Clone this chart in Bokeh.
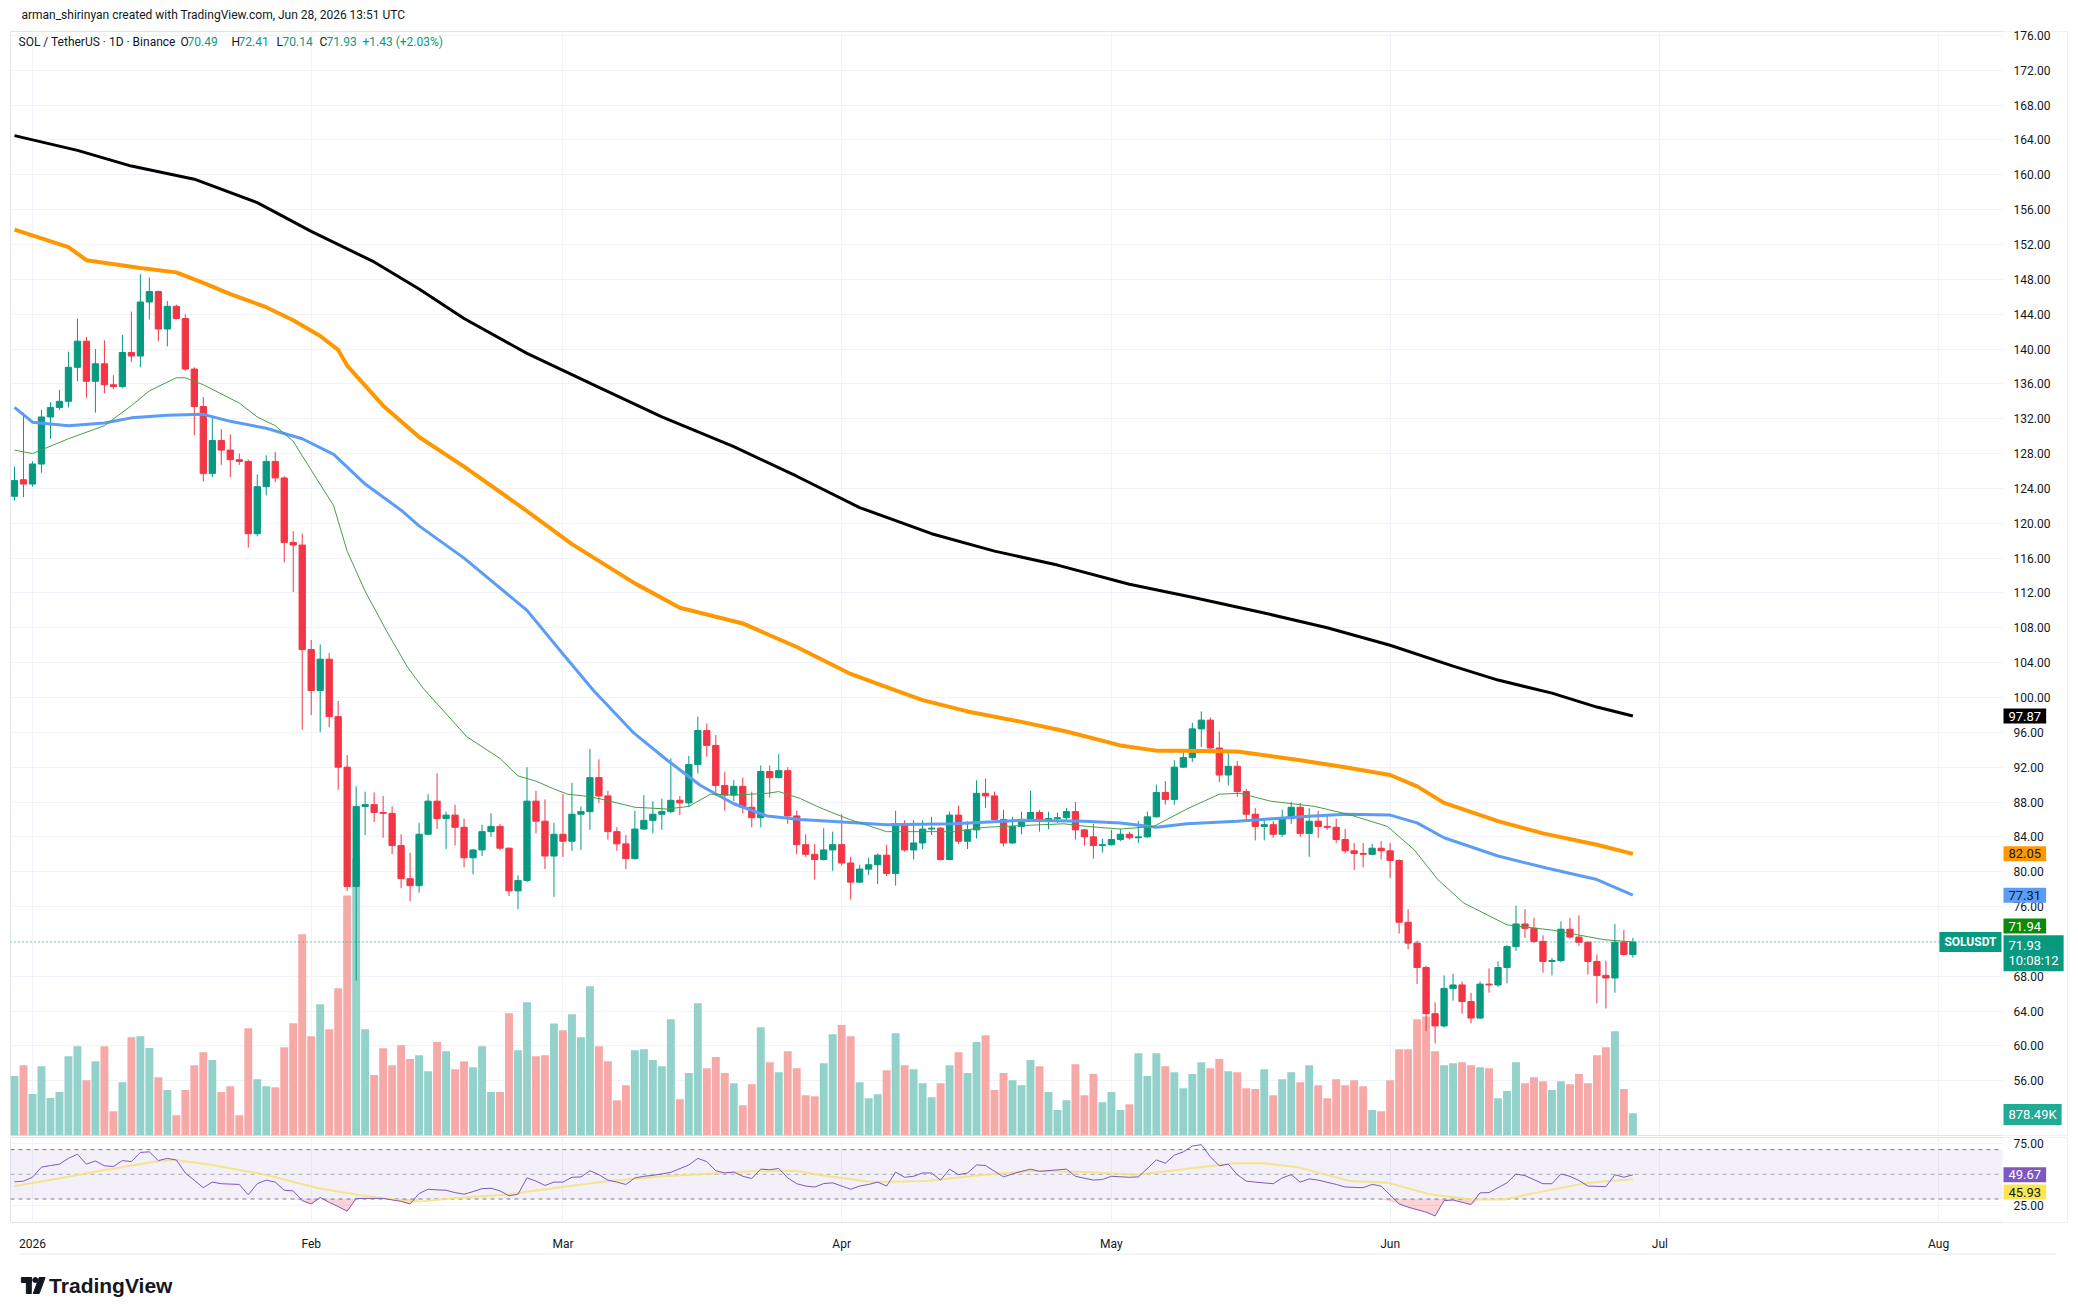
import numpy as np
import pandas as pd
from bokeh.plotting import figure
from bokeh.layouts import column
from bokeh.models import ColumnDataSource, Range1d, FixedTicker, Label
from bokeh.embed import file_html
from bokeh.resources import INLINE

FONT = "Roboto"
TXT = "#131722"
UP, DOWN = "#089981", "#f23645"
UPV, DOWNV = "#92d2ca", "#f7a9a7"
GRID = "#f0f3fa"
BORDER = "#e0e3eb"

# ---------------- data (daily SOL/USDT, 2025-12-30 .. 2026-06-28) ----------------
start_date = "2025-12-30"
opens = [123.1,125.0,124.5,126.8,132.2,133.3,134.0,137.9,140.9,136.3,
         138.3,135.9,135.7,139.6,139.2,145.4,146.6,142.3,144.9,143.5,
         137.7,133.4,125.7,129.5,128.4,127.3,127.1,118.8,124.2,127.1,
         125.2,117.8,117.5,105.5,100.8,104.4,97.8,92.0,78.3,87.5,
         87.7,86.8,86.7,83.0,79.2,78.4,84.3,88.1,86.1,86.5,
         85.1,81.6,82.5,84.6,85.2,82.7,77.8,79.0,88.1,85.8,
         81.8,84.3,83.5,86.6,86.9,90.8,88.7,84.6,83.2,81.5,
         84.9,85.9,86.6,86.9,88.2,87.9,92.3,96.2,94.5,89.9,
         88.8,89.8,87.4,86.2,91.5,90.8,91.6,86.4,83.1,82.0,
         81.4,82.5,83.1,81.0,78.8,80.3,80.8,81.9,79.8,85.5,
         82.5,83.3,84.9,85.0,81.4,86.5,83.5,84.8,89.0,88.7,
         86.0,83.3,85.2,86.0,86.8,86.0,86.1,86.2,86.9,84.8,
         84.0,83.0,83.1,83.7,84.3,83.9,84.0,86.3,89.1,88.3,
         92.0,93.1,96.4,97.4,94.2,91.1,92.1,89.2,86.6,85.2,
         85.4,84.3,86.1,87.4,84.4,85.8,85.2,85.1,83.7,82.4,
         82.1,82.0,82.7,82.4,81.3,74.2,71.8,69.0,63.7,62.3,
         66.6,67.0,65.1,63.2,67.1,67.0,69.0,71.4,74.0,73.5,
         72.0,69.7,69.8,73.4,72.5,71.9,69.7,68.1,67.8,71.9,
         70.49]
highs = [126.5,132.7,127.1,133.0,133.9,135.3,139.7,143.5,141.4,140.0,
         141.0,137.0,141.6,144.3,148.6,148.2,146.7,145.5,145.1,144.0,
         137.9,134.5,132.2,130.8,130.2,128.0,127.3,125.6,127.8,128.2,
         125.4,119.1,118.8,106.6,106.1,105.1,99.6,93.4,89.8,89.2,
         89.1,88.7,87.5,84.3,82.2,85.6,88.9,91.3,86.9,87.7,
         86.1,82.6,85.4,86.7,85.5,82.8,79.6,92.0,89.3,88.3,
         85.6,88.9,90.2,87.5,94.1,92.9,89.3,85.1,84.2,87.0,
         88.8,88.1,88.4,93.0,88.7,93.3,97.8,97.0,95.7,91.5,
         90.5,90.8,89.2,92.2,92.2,93.5,92.0,87.0,84.3,83.2,
         85.0,84.6,86.6,81.7,80.8,81.6,82.1,83.1,87.0,85.9,
         85.9,85.9,86.3,85.1,86.9,87.6,85.8,90.5,90.7,89.2,
         87.1,86.3,86.9,89.3,87.1,86.9,86.8,87.3,88.0,84.9,
         85.5,83.8,84.8,84.9,84.6,85.8,86.9,90.0,90.4,92.8,
         93.9,97.1,98.4,97.7,96.1,93.8,92.7,89.5,87.3,86.0,
         85.8,87.1,88.0,87.9,87.3,87.0,86.5,86.1,84.9,83.3,
         83.3,83.2,83.5,83.3,81.4,75.7,72.1,69.2,65.0,68.1,
         68.3,67.4,66.1,67.4,68.9,69.7,71.6,76.1,75.7,74.7,
         72.7,70.1,74.3,74.7,75.0,72.0,70.5,69.8,74.0,73.3,
         72.41]
lows = [122.6,123.0,124.2,125.8,129.7,133.0,133.3,136.3,134.4,132.7,
        134.9,135.4,135.5,138.5,137.9,143.4,140.9,140.3,143.4,137.5,
        130.1,124.8,125.3,126.7,125.3,126.7,117.2,118.5,123.2,124.7,
        115.5,112.1,96.3,98.0,96.0,96.6,89.4,77.8,67.5,84.2,
        85.7,83.9,82.0,78.1,76.6,77.6,84.2,84.9,82.6,83.0,
        80.5,79.7,81.8,84.0,82.5,77.2,75.7,78.8,84.4,80.3,
        77.1,81.7,82.4,82.5,84.8,87.9,83.7,82.4,80.3,81.4,
        84.8,84.4,84.8,86.7,86.5,87.4,91.3,93.2,88.7,87.0,
        88.1,86.7,85.1,85.1,88.5,90.7,85.5,82.0,81.7,79.1,
        81.3,80.1,80.7,76.8,78.7,79.6,78.6,79.5,78.4,82.3,
        81.4,82.6,84.2,81.3,81.3,83.2,82.6,83.8,87.3,85.9,
        82.9,83.2,84.3,85.9,84.6,84.9,85.6,85.9,83.7,83.0,
        81.5,82.2,83.0,83.5,83.7,83.3,83.9,86.2,87.7,87.7,
        91.9,92.6,94.3,93.6,90.3,89.9,88.6,85.8,83.6,83.6,
        83.9,84.0,85.5,84.0,81.7,83.9,84.8,83.3,82.1,80.2,
        80.5,81.9,81.4,79.3,72.9,71.1,67.1,61.7,60.3,62.1,
        65.2,63.7,62.6,63.1,66.1,66.8,67.2,70.9,72.4,71.8,
        68.4,68.1,69.6,72.3,71.5,68.2,64.9,64.3,66.1,70.4,
        70.14]
closes = [124.9,124.5,126.8,132.2,133.3,134.0,137.9,140.9,136.3,138.3,
          135.9,135.7,139.6,139.2,145.4,146.6,142.3,144.9,143.5,137.7,
          133.4,125.7,129.5,128.4,127.3,127.1,118.8,124.2,127.1,125.2,
          117.8,117.5,105.5,100.8,104.4,97.8,92.0,78.3,87.5,87.7,
          86.8,86.7,83.0,79.2,78.4,84.3,88.1,86.1,86.5,85.1,
          81.6,82.5,84.6,85.2,82.7,77.8,79.0,88.1,85.8,81.8,
          84.3,83.5,86.6,86.9,90.8,88.7,84.6,83.2,81.5,84.9,
          85.9,86.6,86.9,88.2,87.9,92.3,96.2,94.5,89.9,88.8,
          89.8,87.4,86.2,91.5,90.8,91.6,86.4,83.1,82.0,81.4,
          82.5,83.1,81.0,78.8,80.3,80.8,81.9,79.8,85.5,82.5,
          83.3,84.9,85.0,81.4,86.5,83.5,84.8,89.0,88.7,86.0,
          83.3,85.2,86.0,86.8,86.0,86.1,86.2,86.9,84.8,84.0,
          83.0,83.1,83.7,84.3,83.9,84.0,86.3,89.1,88.3,92.0,
          93.1,96.4,97.4,94.2,91.1,92.1,89.2,86.6,85.2,85.4,
          84.3,86.1,87.4,84.4,85.8,85.2,85.1,83.7,82.4,82.1,
          82.0,82.7,82.4,81.3,74.2,71.8,69.0,63.7,62.3,66.6,
          67.0,65.1,63.2,67.1,67.0,69.0,71.4,74.0,73.5,72.0,
          69.7,69.8,73.4,72.5,71.9,69.7,68.1,67.8,71.9,70.5,
          71.93]
volumes_m = [2.34,2.77,1.64,2.73,1.48,1.71,3.12,3.52,2.18,2.93,
             3.52,0.96,2.10,3.87,3.91,3.45,2.30,1.79,0.80,1.79,
             2.77,3.28,2.97,1.71,1.94,0.80,4.23,2.22,1.94,1.90,
             3.48,4.42,7.93,3.91,5.17,4.19,5.80,9.46,10.9,4.19,
             2.38,3.44,2.77,3.56,3.01,3.16,2.53,3.68,3.32,2.61,
             2.93,2.69,3.52,1.71,1.71,4.82,3.36,5.25,3.12,3.16,
             4.41,4.15,4.78,3.87,5.88,3.52,2.93,1.39,1.98,3.36,
             3.40,2.97,2.73,4.58,1.43,2.46,5.21,2.65,3.09,2.46,
             2.06,1.19,2.02,4.27,2.89,2.49,3.32,2.65,1.59,1.55,
             2.85,3.99,4.35,3.91,2.10,1.47,1.63,2.57,4.03,2.77,
             2.61,2.06,1.51,2.06,2.77,3.28,2.46,3.68,3.95,1.79,
             2.46,2.18,1.98,2.97,2.73,1.71,1.00,1.39,2.81,1.59,
             2.42,1.31,1.71,1.00,1.23,3.24,2.34,3.24,2.73,2.49,
             1.86,2.42,2.89,2.65,3.01,2.53,2.49,1.86,1.83,2.61,
             1.59,2.22,2.49,2.10,2.77,1.98,1.47,2.22,1.98,2.18,
             1.94,1.00,0.96,2.18,3.40,3.40,4.58,4.69,3.32,2.77,
             2.85,2.89,2.77,2.69,2.65,1.47,1.75,2.89,2.06,2.30,
             2.14,1.79,2.14,2.02,2.42,2.06,3.16,3.48,4.11,1.83,
             0.87849]

# moving averages: (day index, value)
ma20_x = [0,2,6,10,13,15,18,19,21,25,27,29,31,33,35.5,37,39,41.4,43.7,45.5,50.3,54,56,58,60,61.5,63.3,65,69,72.6,75,77.4,80,83.7,85,87.4,89.7,92.6,97,104.5,108,112,116.7,119.3,123,126.7,130.4,134,136.3,139.7,144.6,148.3,152.7,155.7,158.3,161.2,166,171,176.8,180]
ma20_y = [128.4,128.0,129.7,131.2,133.5,135.2,136.7,136.7,135.9,133.8,132.2,131.2,129.4,126.1,122.0,116.8,112.2,107.6,103.5,101.0,95.5,93.0,91.0,90.4,89.5,88.9,88.7,88.4,87.4,87.2,87.5,88.9,88.8,89.0,89.2,88.4,87.3,86.1,84.6,84.6,85.1,85.3,85.5,85.2,84.9,85.2,87.2,88.9,89.0,88.1,87.5,86.6,85.2,82.5,79.1,76.4,73.9,73.3,72.2,71.94]
ma50_x = [0,2,6,10,13,17,21,24,28,32,35.5,39,43,45,50,57,61,64.4,68.9,72.6,76.3,80,83.7,87.4,90.7,97,104.5,112,119,123,127,130.4,136,143,148,153,156,159,165,170.5,176,180]
ma50_y = [133.3,131.6,131.2,131.5,132.1,132.4,132.5,131.7,130.9,129.7,127.9,124.5,121.5,119.7,116.0,110.0,105.0,100.8,95.9,92.8,89.9,87.8,86.4,86.0,85.8,85.4,85.5,85.9,85.8,85.6,85.1,85.5,85.8,86.3,86.6,86.5,85.6,83.9,81.8,80.4,79.1,77.31]
ma100_x = [0,6,8,14,18,21,24,28,31,34,36,37,39,41,45,50,57,62,69,74,81,87,93,97,101,106,112,117,123,127,130,136,143,148,153,156,159,165,170,176,180]
ma100_y = [153.7,151.7,150.2,149.3,148.8,147.6,146.3,144.8,143.3,141.5,139.9,138.1,135.8,133.5,129.9,126.5,121.4,117.6,113.1,110.3,108.5,105.8,102.7,101.2,99.7,98.4,97.2,96.1,94.5,93.9,93.9,93.8,92.8,92.0,91.1,89.8,87.9,85.8,84.4,83.1,82.05]
ma200_x = [0,7,13,20,27,33,40,45,50,57,65,72,80,87,94,102,109,116,124,131,139,146,153,160,165,171,176,180]
ma200_y = [164.5,162.8,161.0,159.5,156.8,153.5,150.0,146.9,143.5,139.5,135.6,132.2,128.8,125.4,121.8,118.8,116.8,115.2,113.0,111.5,109.7,108.0,106.0,103.6,102.0,100.5,98.9,97.87]

rsi_x = [0,1,2,3,4,5,6,7,8,9,10,11,12,13,14,15,16,17,18,19,21,22,23,25,26,27,28,29,30,31,32,33,34,35,36,37,38,39,41,43,44,45,46,47,48,49,50,51,52,53,54,55,56,57,58,59,60,61,62,63,64,65,66,67,68,69,70,71,72,73,75,76,77,78,79,80,81,82,83,84,85,86,87,88,89,90,91,93,94,95,96,97,98,99,100,101,102,103,104,105,106,107,108,110,111,112,113,114,117,118,120,121,122,124,125,127,128,129,130,131,132,133,134,135,136,137,138,140,141,142,143,144,145,147,148,150,151,152,154,155,157,158,159,160,162,163,164,166,167,168,170,171,172,173,174,175,177,178,179,180]
rsi_v = [43.9,44.5,47.6,55.8,57.1,58.2,62.9,66.3,58.2,60.8,56.9,56.3,61.1,60.3,67.7,68.2,61.1,62.9,61.6,51.1,39.2,43.7,42.4,41.8,33.4,42.4,45.3,43.7,37.1,36.6,28.7,26.0,31.3,27.3,23.9,20.2,30.5,30.5,30.5,28.1,26.0,34.5,37.9,37.4,37.1,35.2,33.9,36.0,38.4,38.7,36.6,32.6,33.9,47.1,44.5,41.0,43.7,43.7,47.6,47.9,52.9,49.7,45.3,43.7,41.8,47.1,48.4,49.2,50.3,51.6,57.6,62.9,60.3,52.9,51.1,51.8,48.4,46.6,54.2,53.7,54.7,47.1,42.4,40.5,39.7,42.5,43.1,37.9,40.5,41.8,43.7,40.5,51.8,47.6,48.4,51.1,51.1,45.3,54.2,49.7,51.1,57.6,57.1,47.9,50.3,52.4,54.2,52.4,54.2,48.4,45.3,45.8,48.4,47.6,47.9,61.6,59.0,65.5,68.2,72.9,74.0,64.2,56.9,58.2,49.7,44.5,43.7,42.4,47.1,49.7,43.7,46.3,45.3,41.8,39.7,39.2,41.8,40.5,26.0,23.4,19.4,16.3,28.7,29.2,25.5,35.0,35.2,43.1,50.3,48.9,42.4,42.4,50.3,48.4,45.0,40.5,40.0,49.7,47.6,49.67]
rsima_x = [0,4.3,10.2,16.1,17.9,22,27.9,33.8,38.5,43.2,45,48.5,54.4,60.3,66.2,72.1,76.8,82.1,86.8,89.7,95.5,101.4,107.3,113.2,119.1,125,130.9,135.6,138.6,142.7,148.6,152.8,157.4,162.1,165.7,170.3,175,180]
rsima_v = [40.5,45.8,53.7,60.8,61.6,57.6,49.7,38.7,33.1,28.7,27.9,30.5,33.4,39.2,44.5,48.4,50.3,52.4,52.9,49.2,43.7,44.5,49.2,52.9,51.8,49.7,55.0,59.0,59.2,55.8,44.5,43.1,33.9,29.7,29.7,36.6,43.1,45.93]

price_ticks = list(range(56, 177, 4))
month_labels = ["2026", "Feb", "Mar", "Apr", "May", "Jun", "Jul", "Aug"]
months = pd.date_range("2026-01-01", "2026-08-01", freq="MS")
month_pos = [int((m - pd.Timestamp(start_date)).days) for m in months]

# ---------------- geometry ----------------
W = 2078
PX = 8.991                     # pixels per day
FL, FR = 10, 2067              # frame left / right (page px)
def X(px):
    return -0.445 + (px - FL) / PX
AX_L = X(2002)                 # start of the price-scale strip
TAG_X = X(2003)
xr = Range1d(X(FL), X(FR))

# ---------------- sources ----------------
o = np.array(opens); h = np.array(highs); l = np.array(lows); c = np.array(closes)
n = len(o)
idx = np.arange(n)
up = c >= o
src = ColumnDataSource(dict(idx=idx, o=o, h=h, l=l, c=c,
                            top=np.maximum(o, c), bot=np.minimum(o, c),
                            col=np.where(up, UP, DOWN),
                            vol=np.array(volumes_m), vcol=np.where(up, UPV, DOWNV)))


def lab(fig, x, y, text, color=TXT, size="12px", bg=None, align="left", baseline="middle",
        rn=None, style="normal", pad=(5, 3), lh=1.2):
    kw = dict(x=x, y=y, text=text, text_color=color, text_font=FONT,
              text_font_size=size, text_align=align, text_baseline=baseline,
              text_font_style=style, text_line_height=lh)
    if bg:
        kw.update(background_fill_color=bg, padding=pad)
    if rn:
        kw["y_range_name"] = rn
    fig.add_layout(Label(**kw))


def tag(fig, y, text, bg, color="white", rn=None, baseline="middle", lh=1.2):
    lab(fig, TAG_X, y, text, color=color, size="13px", bg=bg, rn=rn, baseline=baseline, lh=lh)


def style_axis(ax, standoff):
    ax.axis_line_color = None
    ax.major_tick_line_color = None
    ax.minor_tick_line_color = None
    ax.major_label_standoff = standoff
    ax.major_label_text_font = FONT
    ax.major_label_text_font_size = "12px"
    ax.major_label_text_color = TXT


# ---------------- header strip ----------------
hd = figure(width=W, height=27, x_range=Range1d(0, W), y_range=Range1d(27, 0),
            x_axis_location=None, y_axis_location=None, toolbar_location=None,
            output_backend="svg", min_border=0, outline_line_color=None,
            background_fill_color="white", border_fill_color="white")
hd.grid.grid_line_color = None
lab(hd, 11, 14, "arman_shirinyan created with TradingView.com, Jun 28, 2026 13:51 UTC")

# ---------------- main pane ----------------
p = figure(width=W, height=1109, x_range=xr, y_range=Range1d(49.72, 176.45),
           x_axis_location=None, y_axis_location="right", toolbar_location=None,
           output_backend="svg", min_border_left=FL, min_border_right=W - FR,
           min_border_top=4, min_border_bottom=1, outline_line_color=BORDER,
           background_fill_color="white", border_fill_color="white")
p.extra_y_ranges = {"vol": Range1d(0, 43.5)}
p.yaxis.ticker = FixedTicker(ticks=price_ticks)
p.yaxis.major_label_overrides = {t: f"{t:.2f}" for t in price_ticks}
style_axis(p.yaxis, -60)
p.ygrid.grid_line_color = GRID
p.xgrid.ticker = FixedTicker(ticks=month_pos)
p.xgrid.grid_line_color = GRID

# white price-scale strip hides the grid there
p.quad(left=AX_L, right=X(FR + 5), bottom=40, top=190, fill_color="white", line_color=None)

p.vbar(x="idx", top="vol", bottom=0, width=0.88, fill_color="vcol", line_color=None,
       y_range_name="vol", source=src)
p.segment(x0="idx", y0="l", x1="idx", y1="h", line_color="col", line_width=1, source=src)
p.vbar(x="idx", top="top", bottom="bot", width=0.7, fill_color="col", line_color="col",
       line_width=1, source=src)

p.line(ma200_x, ma200_y, line_color="#000000", line_width=3)
p.line(ma100_x, ma100_y, line_color="#ff9800", line_width=4)
p.line(ma50_x, ma50_y, line_color="#5b9cf6", line_width=3)
p.line(ma20_x, ma20_y, line_color="#43a047", line_width=1)

p.line([X(FL), AX_L], [closes[-1], closes[-1]], line_color=UP, line_dash="1 3", line_width=1)

# legend row
LEG_Y = 175.3
lab(p, X(18), LEG_Y, "SOL / TetherUS · 1D · Binance")
for px_, t, col in [(180, "O", TXT), (187, f"{opens[-1]:.2f}", UP), (231, "H", TXT),
                    (238, f"{highs[-1]:.2f}", UP), (276, "L", TXT), (282, f"{lows[-1]:.2f}", UP),
                    (319, "C", TXT), (326, f"{closes[-1]:.2f}", UP),
                    (362, "+1.43 (+2.03%)", UP)]:
    lab(p, X(px_), LEG_Y, t, color=col)

# price-scale tags
tag(p, ma200_y[-1], f"{ma200_y[-1]:.2f}", "#000000")
tag(p, ma100_y[-1], f"{ma100_y[-1]:.2f}", "#ff9800", color=TXT)
tag(p, ma50_y[-1], f"{ma50_y[-1]:.2f}", "#5b9cf6", color=TXT)
tag(p, 73.76, f"{ma20_y[-1]:.2f}", "#0b8a0b")
tag(p, 72.7, "71.93\n10:08:12", UP, baseline="top", lh=1.0)
lab(p, X(2001), closes[-1], "SOLUSDT", color="white", bg=UP, align="right", style="bold")
tag(p, 0.83, "878.49K", "#22ab94", rn="vol")

# ---------------- RSI pane ----------------
r = figure(width=W, height=117, x_range=xr, y_range=Range1d(11.0, 79.8),
           x_axis_location="below", y_axis_location="right", toolbar_location=None,
           output_backend="svg", min_border_left=FL, min_border_right=W - FR,
           min_border_top=1, min_border_bottom=29, outline_line_color=BORDER,
           background_fill_color="white", border_fill_color="white")
r.yaxis.ticker = FixedTicker(ticks=[25, 75])
r.yaxis.major_label_overrides = {25: "25.00", 75: "75.00"}
style_axis(r.yaxis, -60)
style_axis(r.xaxis, 8)
r.xaxis.ticker = FixedTicker(ticks=month_pos)
r.xaxis.major_label_overrides = dict(zip(month_pos, month_labels))
r.xgrid.ticker = FixedTicker(ticks=month_pos)
r.xgrid.grid_line_color = GRID
r.ygrid.grid_line_color = GRID

r.quad(left=AX_L, right=X(FR + 5), bottom=0, top=100, fill_color="white", line_color=None)
r.quad(left=X(FL), right=AX_L, bottom=30, top=70, fill_color="#7e57c2", fill_alpha=0.09,
       line_color=None)
for lv, a in [(70, 1.0), (50, 0.6), (30, 1.0)]:
    r.line([X(FL), AX_L], [lv, lv], line_color="#787b86", line_alpha=a,
           line_dash="4 4", line_width=1)
rv = np.array(rsi_v)
r.varea(x=rsi_x, y1=np.minimum(rv, 30), y2=30, fill_color=DOWN, fill_alpha=0.22)
r.line(rsima_x, rsima_v, line_color="#f5e27a", line_width=2, line_alpha=0.85)
r.line(rsi_x, rsi_v, line_color="#7e57c2", line_width=1)

tag(r, rsi_v[-1], f"{rsi_v[-1]:.2f}", "#7e57c2")
tag(r, 35.6, f"{rsima_v[-1]:.2f}", "#fbe74c", color=TXT)

# ---------------- footer ----------------
f = figure(width=W, height=55, x_range=Range1d(0, W), y_range=Range1d(55, 0),
           x_axis_location=None, y_axis_location=None, toolbar_location=None,
           output_backend="svg", min_border=0, outline_line_color=None,
           background_fill_color="white", border_fill_color="white")
f.grid.grid_line_color = None
f.line([FL, FR], [0.5, 0.5], line_color=BORDER, line_width=1)
f.quad(left=[11], right=[21], bottom=[29], top=[24], color=TXT)
f.quad(left=[16], right=[21], bottom=[40], top=[24], color=TXT)
f.scatter([25], [26.5], size=5, color=TXT)
f.patch([23, 29, 35, 29], [40, 40, 24, 24], color=TXT)
f.text([39], [32], text=["TradingView"], text_font_size="21px", text_font_style="bold",
       text_baseline="middle", text_color=TXT)

page = column(hd, p, r, f, spacing=0)
open("out.html", "w").write(file_html(page, INLINE))
